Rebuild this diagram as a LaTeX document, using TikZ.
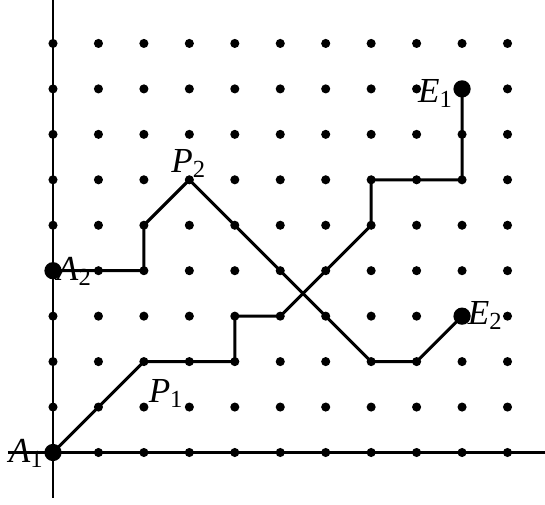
\documentclass[tikz,border=0pt]{standalone}
\usepackage{fontspec}
\setmainfont{Liberation Serif}
\begin{document}
\begin{tikzpicture}[x=1cm,y=1cm,
  axisline/.style={line width=1.4pt},
  pathline/.style={line width=1.9pt, line join=miter},
  smalldot/.style={circle, fill=black, inner sep=0pt, minimum size=0.2cm},
  bigdot/.style={circle, fill=black, inner sep=0pt, minimum size=0.38cm},
  lbl/.style={inner sep=0pt, font=\fontsize{22}{26}\selectfont}]
\useasboundingbox (-1.166,-1.145) rectangle (10.825,9.956);
% axes
\coordinate (xl) at (-0.99,0);
\coordinate (xr) at (10.825,0);
\coordinate (yb) at (0,-0.99);
\coordinate (yt) at (0,9.956);
\draw[axisline] (xl) -- (xr);
\draw[axisline] (yb) -- (yt);
% grid dots
\foreach \i in {0,...,10} {
  \foreach \j in {0,...,9} {
    \node[smalldot] (g\i-\j) at (\i,\j) {};
  }
}
% paths
\draw[pathline] (g0-0.center) -- (g1-1.center) -- (g2-2.center) -- (g4-2.center)
  -- (g4-3.center) -- (g5-3.center) -- (g7-5.center) -- (g7-6.center)
  -- (g9-6.center) -- (g9-8.center);
\draw[pathline] (g0-4.center) -- (g2-4.center) -- (g2-5.center) -- (g3-6.center)
  -- (g7-2.center) -- (g8-2.center) -- (g9-3.center);
% end points
\node[bigdot] (A1) at (g0-0) {};
\node[bigdot] (A2) at (g0-4) {};
\node[bigdot] (E1) at (g9-8) {};
\node[bigdot] (E2) at (g9-3) {};
% labels
\node[lbl, anchor=base east] (lA1) at (-0.2,-0.22) {\textit{A}\textsubscript{1}};
\node[lbl, anchor=base west] (lA2) at (0.08,3.79) {\textit{A}\textsubscript{2}};
\node[lbl, anchor=base east] (lE1) at (8.8,7.69) {\textit{E}\textsubscript{1}};
\node[lbl, anchor=base west] (lE2) at (9.12,2.82) {\textit{E}\textsubscript{2}};
\node[lbl, anchor=base west] (lP1) at (2.1,1.11) {\textit{P}\textsubscript{1}};
\node[lbl, anchor=base west] (lP2) at (2.6,6.15) {\textit{P}\textsubscript{2}};
\end{tikzpicture}
\end{document}
